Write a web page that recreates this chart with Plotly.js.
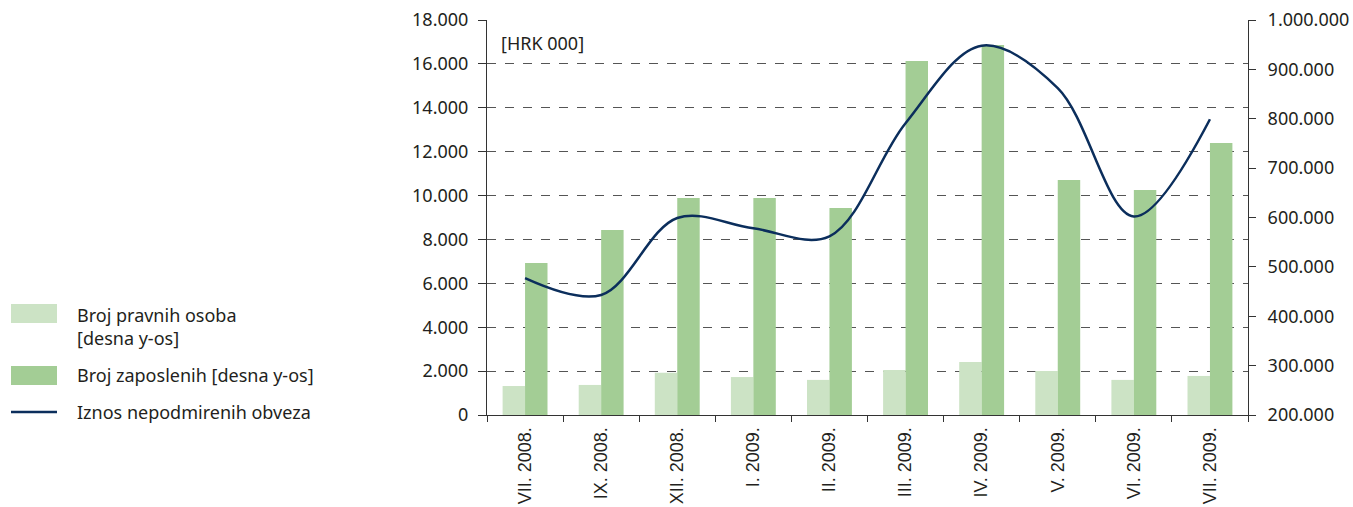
<!DOCTYPE html>
<html>
<head>
<meta charset="utf-8">
<script src="https://cdn.plot.ly/plotly-3.0.1.min.js"></script>
<style>html,body{margin:0;padding:0;background:#fff;}#chart{width:1353px;height:507px;}</style>
</head>
<body>
<div id="chart"></div>
<script>
var categories = ["VII. 2008.", "IX. 2008.", "XII. 2008.", "I. 2009.", "II. 2009.", "III. 2009.", "IV. 2009.", "V. 2009.", "VI. 2009.", "VII. 2009."];
var pravneOsobe = [1320, 1370, 1930, 1730, 1600, 2050, 2420, 2000, 1600, 1780];
var zaposleni = [6930, 8430, 9890, 9890, 9430, 16130, 16860, 10710, 10250, 12400];
var obveze = [477000, 443000, 599000, 578000, 562000, 791000, 948000, 862000, 602000, 799000];
var leftTicks = [0, 2000, 4000, 6000, 8000, 10000, 12000, 14000, 16000, 18000];
var leftTickLabels = ["0", "2.000", "4.000", "6.000", "8.000", "10.000", "12.000", "14.000", "16.000", "18.000"];
var rightTicks = [200000, 300000, 400000, 500000, 600000, 700000, 800000, 900000, 1000000];
var rightTickLabels = ["200.000", "300.000", "400.000", "500.000", "600.000", "700.000", "800.000", "900.000", "1.000.000"];
var legendNames = ["Broj pravnih osoba<br>[desna y-os]", "Broj zaposlenih [desna y-os]", "Iznos nepodmirenih obveza"];
var unitLabel = "[HRK 000]";

var FONT = "Noto Sans, Open Sans, sans-serif";
var XFONT = "Liberation Sans, Arial, sans-serif";
var TXT = "#231f20";
var C_LIGHT = "#cce3c5";
var C_DARK = "#a3cd95";
var C_LINE = "#0b2e5c";

var traces = [
  {type: "bar", x: categories, y: pravneOsobe, name: legendNames[0], marker: {color: C_LIGHT}, yaxis: "y", hoverinfo: "y"},
  {type: "bar", x: categories, y: zaposleni, name: legendNames[1], marker: {color: C_DARK}, yaxis: "y", hoverinfo: "y"},
  {type: "scatter", mode: "lines", x: categories, y: obveze, name: legendNames[2], yaxis: "y2",
   line: {color: C_LINE, width: 2.5, shape: "spline", smoothing: 1.0}}
];

var pw = 1248 - 487;
function px2paperX(p) { return (p - 487) / pw; }
var ph = 415 - 20;
function px2paperY(p) { return (415 - p) / ph; }

var shapes = [
  {type: "rect", xref: "paper", yref: "paper", x0: px2paperX(11), x1: px2paperX(57), y0: px2paperY(323), y1: px2paperY(304), fillcolor: C_LIGHT, line: {width: 0}},
  {type: "rect", xref: "paper", yref: "paper", x0: px2paperX(11), x1: px2paperX(57), y0: px2paperY(385), y1: px2paperY(366), fillcolor: C_DARK, line: {width: 0}},
  {type: "line", xref: "paper", yref: "paper", x0: px2paperX(11), x1: px2paperX(57), y0: px2paperY(412), y1: px2paperY(412), line: {color: C_LINE, width: 2.5}}
];

var annotations = [
  {xref: "paper", yref: "paper", x: px2paperX(499), y: px2paperY(43), xanchor: "left", yanchor: "middle", text: unitLabel, showarrow: false, font: {family: FONT, size: 18, color: TXT}},
  {xref: "paper", yref: "paper", x: px2paperX(75), y: px2paperY(326), xanchor: "left", yanchor: "middle", align: "left", text: legendNames[0], showarrow: false, font: {family: FONT, size: 18, color: TXT}},
  {xref: "paper", yref: "paper", x: px2paperX(75), y: px2paperY(375), xanchor: "left", yanchor: "middle", align: "left", text: legendNames[1], showarrow: false, font: {family: FONT, size: 18, color: TXT}},
  {xref: "paper", yref: "paper", x: px2paperX(75), y: px2paperY(412), xanchor: "left", yanchor: "middle", align: "left", text: legendNames[2], showarrow: false, font: {family: FONT, size: 18, color: TXT}}
];

var layout = {
  width: 1353, height: 507,
  margin: {l: 487, r: 105, t: 20, b: 92, pad: 0},
  paper_bgcolor: "#fff", plot_bgcolor: "#fff",
  showlegend: false,
  barmode: "group", bargap: 0.41, bargroupgap: 0,
  font: {family: FONT, size: 18, color: TXT},
  xaxis: {
    type: "category", tickangle: -90, showline: true, linecolor: "#333", linewidth: 1,
    ticks: "outside", ticklen: 6, tickcolor: "#333", tickson: "boundaries",
    showgrid: false, automargin: false, ticklabelstandoff: 4, tickfont: {family: XFONT, size: 18, color: TXT},
    range: [-0.5, 9.5], fixedrange: true
  },
  yaxis: {
    range: [0, 18000], tickvals: leftTicks, ticktext: leftTickLabels,
    showline: true, linecolor: "#333", linewidth: 1, ticks: "outside", ticklen: 8, tickcolor: "#333",
    showgrid: true, gridcolor: "#555", griddash: "dash", gridwidth: 1, zeroline: false,
    automargin: false, ticklabelstandoff: 6, tickfont: {family: FONT, size: 18, color: TXT}
  },
  yaxis2: {
    overlaying: "y", side: "right", range: [200000, 1000000], tickvals: rightTicks, ticktext: rightTickLabels,
    showline: true, linecolor: "#333", linewidth: 1, ticks: "outside", ticklen: 7, tickcolor: "#333",
    showgrid: false, zeroline: false, automargin: false, ticklabelstandoff: 8,
    tickfont: {family: FONT, size: 18, color: TXT}
  },
  shapes: shapes,
  annotations: annotations
};

Plotly.newPlot("chart", traces, layout, {displayModeBar: false, staticPlot: true});
</script>
</body>
</html>
